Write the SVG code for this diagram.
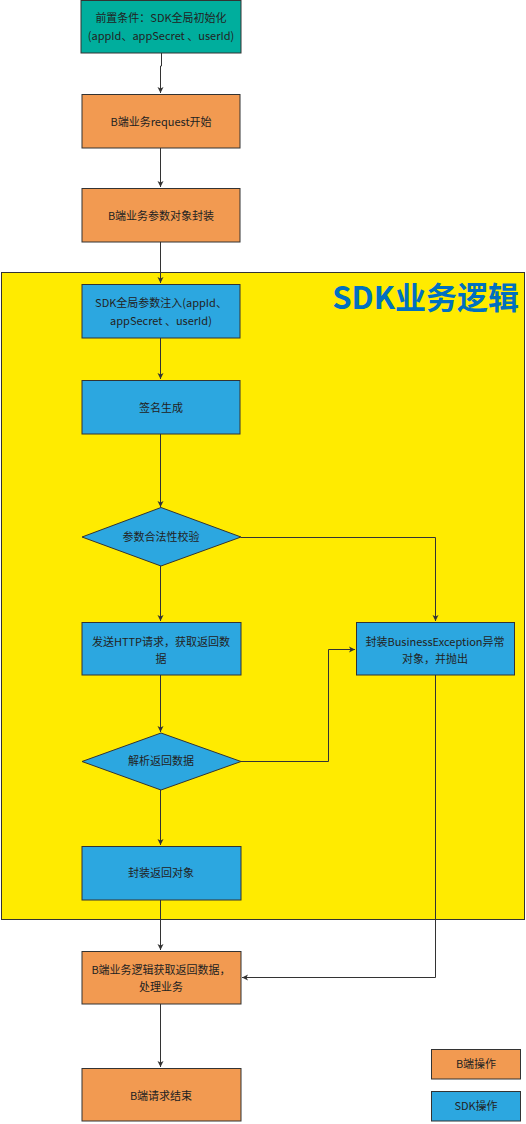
<svg xmlns="http://www.w3.org/2000/svg" width="526" height="1124" viewBox="0 0 526 1124">
<defs>
<marker id="arr" markerWidth="8" markerHeight="8" refX="7" refY="4" orient="auto" markerUnits="userSpaceOnUse">
<path d="M1,1 L7,4 L1,7 L2.5,4 Z" fill="#333"/>
</marker>
</defs>
<style>
.t{font-family:"Microsoft YaHei","Noto Sans CJK SC","Noto Sans",sans-serif;font-size:11px;fill:#222;text-anchor:middle}
.o{fill:#F29A51;stroke:#333;stroke-width:1}
.b{fill:#2CA7E0;stroke:#333;stroke-width:1}
.g{fill:#00AE9D;stroke:#333;stroke-width:1}
.c{fill:none;stroke:#333;stroke-width:1}
</style>
<rect id="container" x="1.5" y="272.5" width="523" height="647" fill="#FFEB00" stroke="#333" stroke-width="1"/>
<text x="519" y="309" font-family="'Microsoft YaHei','Noto Sans CJK SC',sans-serif" font-size="31" font-weight="bold" fill="#0070C0" text-anchor="end">SDK业务逻辑</text>
<g id="connectors">
<path class="c" d="M161.5,53 V66 H160.5 V93" marker-end="url(#arr)"/>
<path class="c" d="M160.5,148 V187" marker-end="url(#arr)"/>
<path class="c" d="M160.5,242 V283" marker-end="url(#arr)"/>
<path class="c" d="M160.5,338 V379" marker-end="url(#arr)"/>
<path class="c" d="M160.5,434 V507" marker-end="url(#arr)"/>
<path class="c" d="M241,537.5 H435.5 V621" marker-end="url(#arr)"/>
<path class="c" d="M160.5,566 V621" marker-end="url(#arr)"/>
<path class="c" d="M160.5,675 V732" marker-end="url(#arr)"/>
<path class="c" d="M241,761.5 H328.5 V649.5 H355" marker-end="url(#arr)"/>
<path class="c" d="M160.5,790 V845" marker-end="url(#arr)"/>
<path class="c" d="M160.5,900 V950" marker-end="url(#arr)"/>
<path class="c" d="M435.5,675 V977.5 H242" marker-end="url(#arr)"/>
<path class="c" d="M160.5,1004 V1067" marker-end="url(#arr)"/>
</g>
<g id="n1"><rect class="g" x="81" y="0.5" width="160" height="52.5"/>
<text class="t" x="161" y="22">前置条件：SDK全局初始化</text><text class="t" x="161" y="40">(appId、appSecret 、userId)</text></g>
<g id="n2"><rect class="o" x="82" y="94.5" width="158" height="53.5"/>
<text class="t" x="161" y="126">B端业务request开始</text></g>
<g id="n3"><rect class="o" x="82" y="188.5" width="158" height="53.5"/>
<text class="t" x="161" y="220">B端业务参数对象封装</text></g>
<g id="n4"><rect class="b" x="82" y="284.5" width="158" height="53.5"/>
<text class="t" x="161" y="307">SDK全局参数注入(appId、</text><text class="t" x="161" y="325">appSecret 、userId)</text></g>
<g id="n5"><rect class="b" x="82" y="380.5" width="158" height="53.5"/>
<text class="t" x="161" y="412">签名生成</text></g>
<g id="n6"><polygon class="b" points="161,507.5 241,537 161,566 82,537"/>
<text class="t" x="161" y="541">参数合法性校验</text></g>
<g id="n7"><rect class="b" x="82" y="622.5" width="159" height="52.5"/>
<text class="t" x="161" y="646">发送HTTP请求，获取返回数</text><text class="t" x="161" y="663">据</text></g>
<g id="n8"><rect class="b" x="356.5" y="622.5" width="158" height="52.5"/>
<text class="t" x="435" y="646">封装BusinessException异常</text><text class="t" x="435" y="663">对象，并抛出</text></g>
<g id="n9"><polygon class="b" points="161,733 241,761.5 161,790 82,761.5"/>
<text class="t" x="161" y="765">解析返回数据</text></g>
<g id="n10"><rect class="b" x="82" y="846.5" width="159" height="53.5"/>
<text class="t" x="161" y="877">封装返回对象</text></g>
<g id="n11"><rect class="o" x="82" y="951.5" width="159" height="52.5"/>
<text class="t" x="161" y="974">B端业务逻辑获取返回数据，</text><text class="t" x="161" y="991">处理业务</text></g>
<g id="n12"><rect class="o" x="82" y="1068.5" width="159" height="52.5"/>
<text class="t" x="161" y="1100">B端请求结束</text></g>
<g id="legend1"><rect class="o" x="431.5" y="1049.5" width="89" height="29.5"/>
<text class="t" x="476" y="1068">B端操作</text></g>
<g id="legend2"><rect class="b" x="431.5" y="1091.5" width="89" height="29.5"/>
<text class="t" x="476" y="1110">SDK操作</text></g>
</svg>
